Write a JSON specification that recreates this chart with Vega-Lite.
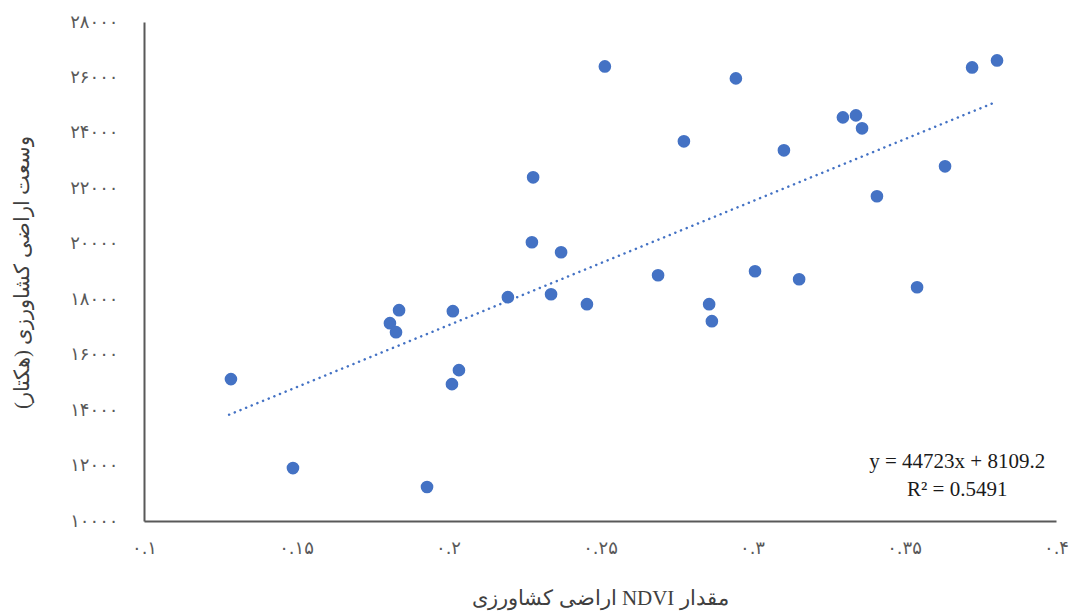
{
  "$schema": "https://vega.github.io/schema/vega-lite/v6.json",
  "width": 912,
  "height": 499,
  "autosize": {"type": "none"},
  "padding": {"left": 144, "top": 22, "right": 24, "bottom": 91},
  "background": "white",
  "config": {"view": {"stroke": null}, "font": "DejaVu Sans"},
  "datasets": {
    "points": [
      {"ndvi": 0.1286, "area": 15118},
      {"ndvi": 0.1490, "area": 11910},
      {"ndvi": 0.1809, "area": 17136},
      {"ndvi": 0.1829, "area": 16811},
      {"ndvi": 0.1839, "area": 17604},
      {"ndvi": 0.1931, "area": 11225},
      {"ndvi": 0.2016, "area": 17568},
      {"ndvi": 0.2013, "area": 14937},
      {"ndvi": 0.2036, "area": 15442},
      {"ndvi": 0.2197, "area": 18073},
      {"ndvi": 0.2276, "area": 20055},
      {"ndvi": 0.2280, "area": 22398},
      {"ndvi": 0.2339, "area": 18181},
      {"ndvi": 0.2372, "area": 19695},
      {"ndvi": 0.2457, "area": 17821},
      {"ndvi": 0.2516, "area": 26398},
      {"ndvi": 0.2691, "area": 18866},
      {"ndvi": 0.2776, "area": 23695},
      {"ndvi": 0.2859, "area": 17821},
      {"ndvi": 0.2868, "area": 17208},
      {"ndvi": 0.2947, "area": 25966},
      {"ndvi": 0.3010, "area": 19010},
      {"ndvi": 0.3105, "area": 23371},
      {"ndvi": 0.3155, "area": 18722},
      {"ndvi": 0.3299, "area": 24560},
      {"ndvi": 0.3342, "area": 24632},
      {"ndvi": 0.3362, "area": 24164},
      {"ndvi": 0.3411, "area": 21713},
      {"ndvi": 0.3543, "area": 18433},
      {"ndvi": 0.3635, "area": 22794},
      {"ndvi": 0.3724, "area": 26362},
      {"ndvi": 0.3806, "area": 26614}
    ],
    "trend": [
      {"ndvi": 0.128, "area": 13834},
      {"ndvi": 0.3806, "area": 25131}
    ],
    "eq": [
      {"ndvi": 0.3675, "area": 12126, "label": "y = 44723x + 8109.2\nR² = 0.5491"}
    ]
  },
  "encoding": {
    "x": {
      "field": "ndvi",
      "type": "quantitative",
      "scale": {"domain": [0.1, 0.4], "nice": false, "zero": false},
      "axis": {
        "title": "\u202Bمقدار NDVI اراضی کشاورزی\u202C",
        "values": [0.1, 0.15, 0.2, 0.25, 0.3, 0.35, 0.4],
        "format": "~g",
        "labelExpr": "replace(replace(replace(replace(replace(replace(replace(replace(replace(replace(datum.label, regexp('0','g'), '۰'), regexp('1','g'), '۱'), regexp('2','g'), '۲'), regexp('3','g'), '۳'), regexp('4','g'), '۴'), regexp('5','g'), '۵'), regexp('6','g'), '۶'), regexp('7','g'), '۷'), regexp('8','g'), '۸'), regexp('9','g'), '۹')",
        "grid": false,
        "ticks": false,
        "domainColor": "#595959",
        "domainWidth": 2,
        "labelColor": "#595959",
        "labelFontSize": 18,
        "labelPadding": 18,
        "labelFlush": false,
        "titleFont": "Liberation Serif",
        "titleFontSize": 21,
        "titleFontWeight": "normal",
        "titleColor": "#404040",
        "titleY": 77,
        "titleBaseline": "middle"
      }
    },
    "y": {
      "field": "area",
      "type": "quantitative",
      "scale": {"domain": [10000, 28000], "nice": false, "zero": false},
      "axis": {
        "title": "\u202Bوسعت اراضی کشاورزی (هکتار)\u202C",
        "values": [10000, 12000, 14000, 16000, 18000, 20000, 22000, 24000, 26000, 28000],
        "format": "d",
        "labelExpr": "replace(replace(replace(replace(replace(replace(replace(replace(replace(replace(datum.label, regexp('0','g'), '۰'), regexp('1','g'), '۱'), regexp('2','g'), '۲'), regexp('3','g'), '۳'), regexp('4','g'), '۴'), regexp('5','g'), '۵'), regexp('6','g'), '۶'), regexp('7','g'), '۷'), regexp('8','g'), '۸'), regexp('9','g'), '۹')",
        "grid": false,
        "ticks": false,
        "domainColor": "#595959",
        "domainWidth": 2,
        "labelColor": "#595959",
        "labelFontSize": 18,
        "labelPadding": 26,
        "labelFlush": false,
        "titleFont": "Liberation Serif",
        "titleFontSize": 21,
        "titleFontWeight": "normal",
        "titleColor": "#404040",
        "titleX": -122,
        "titleY": 250,
        "titleAngle": -90,
        "titleAlign": "center",
        "titleBaseline": "middle"
      }
    }
  },
  "layer": [
    {
      "data": {"name": "trend"},
      "mark": {"type": "line", "color": "#4472C4", "strokeWidth": 2.5, "strokeDash": [0.1, 6], "strokeCap": "round"}
    },
    {
      "data": {"name": "points"},
      "mark": {"type": "circle", "size": 160, "color": "#4472C4", "opacity": 1}
    },
    {
      "data": {"name": "eq"},
      "mark": {"type": "text", "font": "Liberation Serif", "fontSize": 21, "lineBreak": "\n", "lineHeight": 28, "align": "center", "baseline": "middle", "color": "#1a1a1a"},
      "encoding": {"text": {"field": "label"}}
    }
  ]
}
